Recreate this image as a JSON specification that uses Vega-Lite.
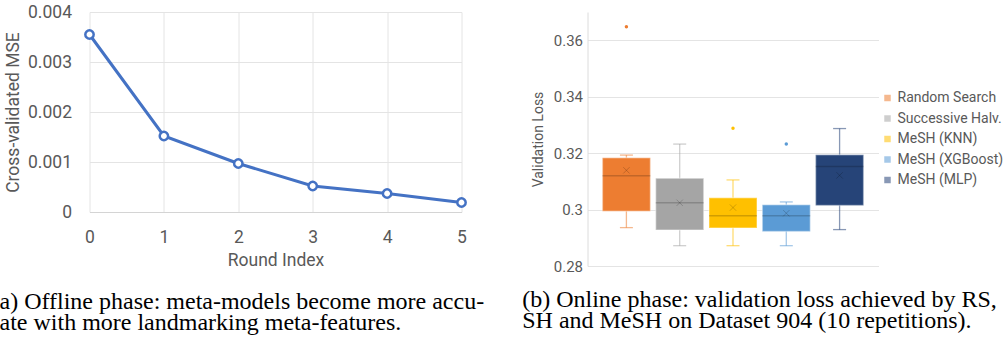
{
  "$schema": "https://vega.github.io/schema/vega-lite/v6.json",
  "background": "white",
  "padding": {"left": -8.5, "top": 3, "right": 0, "bottom": 0},
  "bounds": "flush",
  "spacing": 126,
  "config": {
    "view": {"stroke": null},
    "font": "Roboto",
    "axis": {"labelColor": "#595959", "titleColor": "#595959", "titleFontWeight": "normal", "ticks": false, "gridColor": "#E4E4E4", "gridWidth": 1, "labelFont": "Roboto", "titleFont": "Roboto", "labelOverlap": false},
    "title": {"font": "Liberation Serif", "fontSize": 24, "fontWeight": "normal", "color": "black", "orient": "bottom", "anchor": "start", "frame": "group", "baseline": "top", "lineHeight": 21}
  },
  "hconcat": [
    {
      "width": 372,
      "height": 200,
      "title": {"text": ["(a) Offline phase: meta-models become more accu-", "rate with more landmarking meta-features."], "dx": -98, "offset": 21},
      "data": {"values": [
        {"round": 0, "mse": 0.00355},
        {"round": 1, "mse": 0.00152},
        {"round": 2, "mse": 0.00097},
        {"round": 3, "mse": 0.00052},
        {"round": 4, "mse": 0.00037},
        {"round": 5, "mse": 0.00019}
      ]},
      "encoding": {
        "x": {"field": "round", "type": "quantitative", "scale": {"domain": [0, 5], "nice": false},
              "axis": {"values": [0, 1, 2, 3, 4, 5], "title": "Round Index", "labelFontSize": 17.5, "titleFontSize": 17.5, "labelPadding": 16, "titlePadding": 6, "domain": true, "domainColor": "#D4D4D4", "labelFlush": false}},
        "y": {"field": "mse", "type": "quantitative", "scale": {"domain": [0, 0.004], "nice": false},
              "axis": {"values": [0, 0.001, 0.002, 0.003, 0.004], "format": "~g", "title": "Cross-validated MSE", "labelFontSize": 17.5, "titleFontSize": 17.5, "labelPadding": 18, "titlePadding": 5, "domain": false}}
      },
      "layer": [
        {"mark": {"type": "line", "color": "#4472C4", "strokeWidth": 3}},
        {"mark": {"type": "point", "filled": true, "fill": "white", "stroke": "#4472C4", "strokeWidth": 2.5, "size": 70, "opacity": 1}}
      ]
    },
    {
      "width": 291,
      "height": 254,
      "title": {"text": ["(b) Online phase: validation loss achieved by RS,", "SH and MeSH on Dataset 904 (10 repetitions)."], "dx": -65.3, "offset": 14},
      "data": {"values": [
        {"method": "Random Search", "min": 0.2936, "q1": 0.2994, "median": 0.3120, "q3": 0.3184, "max": 0.3193, "mean": 0.3139, "outlier": 0.3648},
        {"method": "Successive Halv.", "min": 0.2872, "q1": 0.2928, "median": 0.3024, "q3": 0.3111, "max": 0.3232, "mean": 0.3024, "outlier": null},
        {"method": "MeSH (KNN)", "min": 0.2872, "q1": 0.2935, "median": 0.2978, "q3": 0.3042, "max": 0.3105, "mean": 0.3007, "outlier": 0.3288},
        {"method": "MeSH (XGBoost)", "min": 0.2872, "q1": 0.2922, "median": 0.2978, "q3": 0.3017, "max": 0.3027, "mean": 0.2987, "outlier": 0.3232},
        {"method": "MeSH (MLP)", "min": 0.2929, "q1": 0.3014, "median": 0.3153, "q3": 0.3194, "max": 0.3287, "mean": 0.3121, "outlier": null}
      ]},
      "encoding": {
        "x": {"field": "method", "type": "nominal", "sort": null, "scale": {"type": "band", "paddingInner": 0, "paddingOuter": 0.23}, "axis": null}
      },
      "layer": [
        {
          "mark": {"type": "rule", "opacity": 0.55, "strokeWidth": 1.3},
          "encoding": {
            "y": {"field": "min", "type": "quantitative", "title": "Validation Loss", "scale": {"domain": [0.28, 0.37], "nice": false},
                  "axis": {"values": [0.28, 0.29, 0.3, 0.31, 0.32, 0.33, 0.34, 0.35, 0.36, 0.37], "format": "~g", "labelFontSize": 15, "titleFontSize": 14, "labelPadding": 5, "titlePadding": 8, "domain": true, "domainColor": "#DCDCDC", "labelOverlap": false}},
            "y2": {"field": "max"},
            "color": {"field": "method", "type": "nominal", "sort": null}
          }
        },
        {
          "mark": {"type": "tick", "opacity": 0.55, "size": 13, "thickness": 1.3},
          "encoding": {
            "y": {"field": "min", "type": "quantitative", "title": "Validation Loss"},
            "color": {"field": "method", "type": "nominal", "sort": null}
          }
        },
        {
          "mark": {"type": "tick", "opacity": 0.55, "size": 13, "thickness": 1.3},
          "encoding": {
            "y": {"field": "max", "type": "quantitative", "title": "Validation Loss"},
            "color": {"field": "method", "type": "nominal", "sort": null}
          }
        },
        {
          "mark": {"type": "bar", "size": 48, "stroke": "white", "strokeOpacity": 0.35, "strokeWidth": 1.5, "opacity": 1},
          "encoding": {
            "y": {"field": "q1", "type": "quantitative", "title": "Validation Loss"},
            "y2": {"field": "q3"},
            "color": {"field": "method", "type": "nominal", "sort": null,
                      "scale": {"domain": ["Random Search", "Successive Halv.", "MeSH (KNN)", "MeSH (XGBoost)", "MeSH (MLP)"], "range": ["#ED7D31", "#A5A5A5", "#FFC000", "#5B9BD5", "#264478"]},
                      "legend": {"orient": "none", "legendX": 791, "legendY": 79, "padding": 0, "title": null, "symbolType": "square", "symbolSize": 42, "symbolOpacity": 1, "symbolStrokeWidth": 0, "labelFontSize": 14, "labelColor": "#595959", "labelFont": "Roboto", "rowPadding": 6.5, "labelOffset": 3}}
          }
        },
        {
          "mark": {"type": "tick", "size": 48, "thickness": 1.5, "color": "black", "opacity": 0.18},
          "encoding": {
            "y": {"field": "median", "type": "quantitative", "title": "Validation Loss"}
          }
        },
        {
          "mark": {"type": "point", "shape": "M-1,-1L1,1M1,-1L-1,1", "size": 40, "filled": false, "stroke": "black", "strokeOpacity": 0.25, "strokeWidth": 1},
          "encoding": {
            "y": {"field": "mean", "type": "quantitative", "title": "Validation Loss"}
          }
        },
        {
          "mark": {"type": "point", "shape": "circle", "filled": true, "size": 12, "opacity": 1},
          "encoding": {
            "y": {"field": "outlier", "type": "quantitative", "title": "Validation Loss"},
            "color": {"field": "method", "type": "nominal", "sort": null}
          }
        }
      ]
    }
  ]
}
